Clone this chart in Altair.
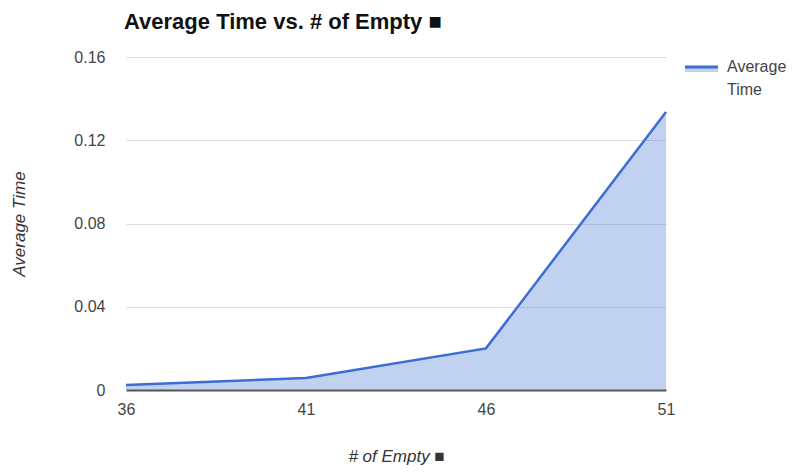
import altair as alt
import pandas as pd

empty = [36, 41, 46, 51]
avg_time = [0.0024, 0.0058, 0.0200, 0.1336]
series_name = "Average Time"
legend_lines = ["Average", "Time"]

df = pd.DataFrame({"empty": empty, "avg": avg_time})

FONT = "Liberation Sans"
BLUE = "#3c6cd4"

area = alt.Chart(df).mark_area(
    line={"color": BLUE, "strokeWidth": 2.5},
    color="#3366cc",
    fillOpacity=0.3,
    interpolate="linear",
).encode(
    x=alt.X(
        "empty:Q",
        scale=alt.Scale(domain=[36, 51], nice=False, zero=False),
        axis=alt.Axis(
            values=empty,
            title="# of Empty ■",
            titleFont=FONT,
            titleFontStyle="italic",
            titleFontWeight="normal",
            titleFontSize=17,
            titleColor="#333333",
            titlePadding=31,
            labelFont=FONT,
            labelFontSize=16,
            labelColor="#444444",
            labelPadding=11,
            labelAlign="center",
            labelFlush=False,
            ticks=False,
            grid=False,
            domainColor="#555555",
            domainWidth=2,
        ),
    ),
    y=alt.Y(
        "avg:Q",
        scale=alt.Scale(domain=[0, 0.16], nice=False),
        axis=alt.Axis(
            values=[0, 0.04, 0.08, 0.12, 0.16],
            format=".2~f",
            title="Average Time",
            titleFont=FONT,
            titleFontStyle="italic",
            titleFontWeight="normal",
            titleFontSize=17,
            titleColor="#333333",
            titlePadding=45,
            labelFont=FONT,
            labelFontSize=16,
            labelColor="#444444",
            labelPadding=21,
            ticks=False,
            domain=False,
            gridColor="#dddddd",
            gridWidth=1,
        ),
    ),
)

one = pd.DataFrame({"k": [series_name]})

legend_fill = alt.Chart(one).mark_rect(color="#3366cc", opacity=0.3).encode(
    x=alt.value(559), x2=alt.value(592), y=alt.value(10), y2=alt.value(15)
)
legend_line = alt.Chart(one).mark_rule(color=BLUE, strokeWidth=3).encode(
    x=alt.value(559), x2=alt.value(592), y=alt.value(10)
)
legend_t1 = alt.Chart(one).mark_text(
    text=legend_lines[0], align="left", baseline="middle",
    font=FONT, fontSize=16, color="#444444",
).encode(x=alt.value(601), y=alt.value(10))
legend_t2 = alt.Chart(one).mark_text(
    text=legend_lines[1], align="left", baseline="middle",
    font=FONT, fontSize=16, color="#444444",
).encode(x=alt.value(601), y=alt.value(33))

chart = alt.layer(area, legend_fill, legend_line, legend_t1, legend_t2).properties(
    width=540,
    height=333,
    autosize=alt.AutoSizeParams(type="none"),
    padding={"left": 118, "top": 49, "right": 123, "bottom": 80},
    title=alt.TitleParams(
        "Average Time vs. # of Empty ■",
        anchor="start",
        frame="group",
        font=FONT,
        fontSize=22,
        fontWeight="bold",
        color="#111111",
        offset=15,
        dx=-2,
    ),
).configure_view(stroke=None)

chart.save("out.html", embed_options={"renderer": "svg", "actions": False})
